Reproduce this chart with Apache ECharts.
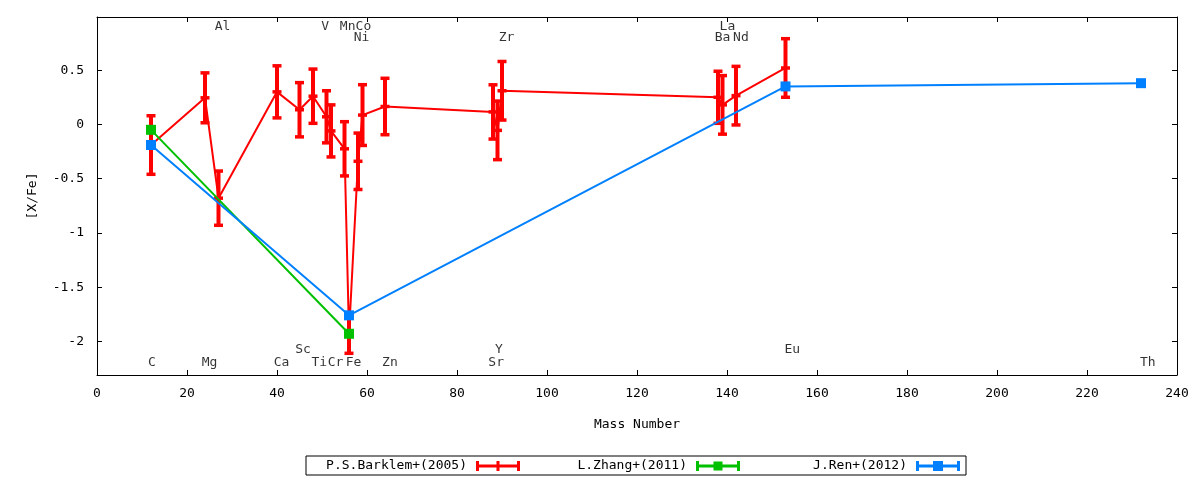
<!DOCTYPE html>
<html>
<head>
<meta charset="utf-8">
<script src="https://cdn.jsdelivr.net/npm/echarts@6/dist/echarts.min.js"></script>
<style>
  html, body { margin: 0; padding: 0; background: #fff; }
  #chart { width: 1200px; height: 480px; }
</style>
</head>
<body>
<div id="chart"></div>
<script>
// data
var barklemMass = [12, 24, 27, 40, 45, 48, 51, 52, 55, 56, 58, 59, 64, 88, 89, 90, 138, 139, 142, 153];
var barklemXFe  = [-0.19, 0.245, -0.68, 0.30, 0.135, 0.26, 0.07, -0.06, -0.225, -1.93, -0.34, 0.086, 0.165, 0.115, -0.055, 0.31, 0.25, 0.18, 0.265, 0.52];
var barklemErr  = [0.27, 0.23, 0.25, 0.24, 0.25, 0.25, 0.24, 0.24, 0.25, 0.18, 0.26, 0.28, 0.26, 0.25, 0.27, 0.27, 0.24, 0.27, 0.27, 0.27];

var zhangMass = [12, 56];
var zhangXFe  = [-0.05, -1.93];

var renMass = [12, 56, 153, 232];
var renXFe  = [-0.19, -1.76, 0.35, 0.38];

// element name labels inside the plot
var elemNames = ['C', 'Mg', 'Al', 'Ca', 'Sc', 'Ti', 'Cr', 'Fe', 'Zn', 'V', 'Mn', 'Co', 'Ni',
                 'Sr', 'Y', 'Zr', 'Ba', 'La', 'Nd', 'Eu', 'Th'];
var elemX = [12.2, 25.0, 27.9, 41.0, 45.8, 49.4, 53.0, 57.0, 65.1, 50.7, 55.7, 59.2, 58.8,
             88.7, 89.3, 91.0, 139.0, 140.1, 143.1, 154.5, 233.5];
var elemY = [-2.2, -2.2, 0.9, -2.2, -2.08, -2.2, -2.2, -2.2, -2.2, 0.9, 0.9, 0.9, 0.8,
             -2.2, -2.08, 0.8, 0.8, 0.9, 0.8, -2.08, -2.2];

var yTicks = [-2, -1.5, -1, -0.5, 0, 0.5];

var FONT = 'DejaVu Sans Mono';
var RED = '#ff0000', GREEN = '#00c000', BLUE = '#0080ff';

var barklemPts = barklemMass.map(function (m, i) { return [m, barklemXFe[i]]; });
var barklemErrPts = barklemMass.map(function (m, i) { return [m, barklemXFe[i], barklemErr[i]]; });
var zhangPts = zhangMass.map(function (m, i) { return [m, zhangXFe[i]]; });
var renPts = renMass.map(function (m, i) { return [m, renXFe[i]]; });
var elemPts = elemNames.map(function (n, i) { return { name: n, value: [elemX[i], elemY[i]] }; });

function renderErrorBar(params, api) {
  var x = api.value(0), y = api.value(1), e = api.value(2);
  var c = api.coord([x, y]);
  var hi = api.coord([x, y + e]);
  var lo = api.coord([x, y - e]);
  var bar = { stroke: RED, lineWidth: 4 };
  var cap = { stroke: RED, lineWidth: 3.5 };
  var w = 4.5;
  return {
    type: 'group',
    children: [
      { type: 'line', shape: { x1: c[0], y1: hi[1], x2: c[0], y2: lo[1] }, style: bar },
      { type: 'line', shape: { x1: c[0] - w, y1: hi[1], x2: c[0] + w, y2: hi[1] }, style: cap },
      { type: 'line', shape: { x1: c[0] - w, y1: lo[1], x2: c[0] + w, y2: lo[1] }, style: cap },
      { type: 'line', shape: { x1: c[0] - w, y1: c[1], x2: c[0] + w, y2: c[1] }, style: cap }
    ]
  };
}

var iconBase = 'M0 0h3v10H0zM41 0h3v10h-3zM3 3.5h38v3H3z';
var redIcon = 'path://' + iconBase + 'M20.5 0h3v10h-3z';
var greenIcon = 'path://' + iconBase + 'M17.5 0.5h9v9h-9z';
var blueIcon = 'path://' + iconBase + 'M17 0h10v10h-10z';

var frameLine = { show: true, onZero: false, lineStyle: { color: '#000', width: 1 } };
var xTick = { show: true, inside: true, length: 5, lineStyle: { color: '#000' } };
var yTick = { show: true, inside: true, length: 5, lineStyle: { color: '#000' }, customValues: yTicks };

var chart = echarts.init(document.getElementById('chart'));

var option = {
  animation: false,
  backgroundColor: '#fff',
  textStyle: { fontFamily: FONT },
  grid: { left: 97, right: 23, top: 17, bottom: 105 },
  xAxis: [
    {
      type: 'value', min: 0, max: 240, interval: 20, position: 'bottom',
      axisLine: frameLine, axisTick: xTick, splitLine: { show: false },
      axisLabel: { color: '#000', fontFamily: FONT, fontSize: 13, margin: 12 },
      name: 'Mass Number', nameLocation: 'middle', nameGap: 43,
      nameTextStyle: { color: '#000', fontFamily: FONT, fontSize: 13 }
    },
    {
      type: 'value', min: 0, max: 240, interval: 20, position: 'top',
      axisLine: frameLine, axisTick: xTick, splitLine: { show: false },
      axisLabel: { show: false }
    }
  ],
  yAxis: [
    {
      type: 'value', min: -2.31, max: 0.99, position: 'left',
      axisLine: frameLine, axisTick: yTick, splitLine: { show: false },
      axisLabel: { color: '#000', fontFamily: FONT, fontSize: 13, margin: 13, customValues: yTicks },
      name: '[X/Fe]', nameLocation: 'middle', nameGap: 58, nameRotate: 90,
      nameTextStyle: { color: '#000', fontFamily: FONT, fontSize: 13 }
    },
    {
      type: 'value', min: -2.31, max: 0.99, position: 'right',
      axisLine: frameLine, axisTick: yTick, splitLine: { show: false },
      axisLabel: { show: false }
    }
  ],
  legend: {
    left: 306, top: 456,
    orient: 'horizontal',
    align: 'right',
    padding: [2, 6, 1, 11],
    borderColor: '#000', borderWidth: 1, borderRadius: 0,
    itemWidth: 44, itemHeight: 10, itemGap: 17,
    selectedMode: false,
    textStyle: { color: '#000', fontFamily: FONT, fontSize: 13, lineHeight: 16, width: 150, align: 'right', padding: [0, 4, 0, 0] },
    data: [
      { name: 'P.S.Barklem+(2005)', icon: redIcon },
      { name: 'L.Zhang+(2011)', icon: greenIcon },
      { name: 'J.Ren+(2012)', icon: blueIcon }
    ]
  },
  series: [
    {
      name: 'P.S.Barklem+(2005)', type: 'line', data: barklemPts,
      symbol: 'none', color: RED, lineStyle: { color: RED, width: 2 }, z: 2
    },
    {
      name: 'P.S.Barklem+(2005)', type: 'custom', data: barklemErrPts,
      renderItem: renderErrorBar, encode: { x: 0, y: 1 }, color: RED,
      itemStyle: { color: RED }, z: 2
    },
    {
      name: 'L.Zhang+(2011)', type: 'line', data: zhangPts,
      symbol: 'rect', symbolSize: 10, color: GREEN,
      itemStyle: { color: GREEN }, lineStyle: { color: GREEN, width: 2 }, z: 3
    },
    {
      name: 'J.Ren+(2012)', type: 'line', data: renPts,
      symbol: 'rect', symbolSize: 10, color: BLUE,
      itemStyle: { color: BLUE }, lineStyle: { color: BLUE, width: 2 }, z: 4
    },
    {
      name: 'elements', type: 'scatter', data: elemPts,
      symbolSize: 0, silent: true, z: 5,
      label: { show: true, position: 'inside', formatter: '{b}', color: '#000', fontFamily: FONT, fontSize: 13 }
    }
  ]
};

chart.setOption(option);
window.addEventListener('resize', function () {
  chart.resize();
});
</script>
</body>
</html>
